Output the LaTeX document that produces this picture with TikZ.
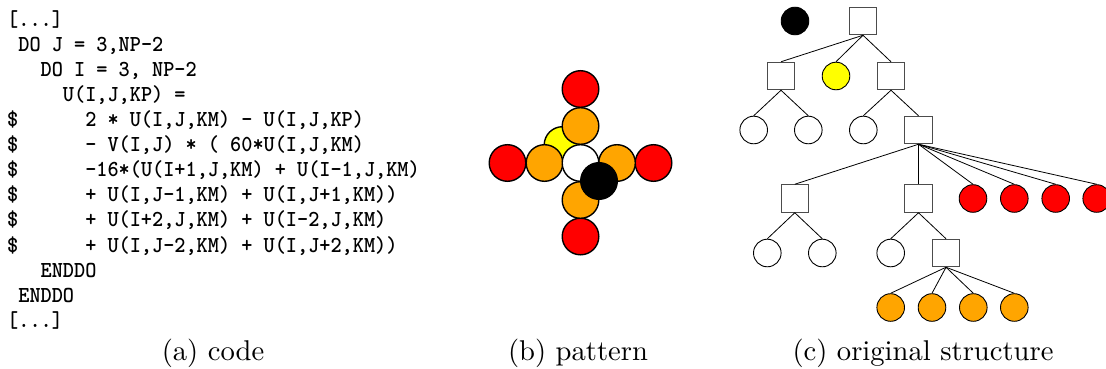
\documentclass[tikz,border=0pt]{standalone}
\usepackage{graphicx}
\definecolor{cred}{HTML}{FF0000}
\definecolor{corange}{HTML}{FFA500}
\definecolor{cyellow}{HTML}{FFFF00}
\begin{document}
\begin{tikzpicture}[x=1pt,y=-1pt,
  sqbox/.style={rectangle,draw=black!70,fill=white,minimum size=27.6pt,inner sep=0pt,line width=0.9pt},
  leafnode/.style={circle,draw=black,fill=white,minimum size=27.6pt,inner sep=0pt,line width=0.9pt},
  patnode/.style={circle,draw=black,minimum size=36.6pt,inner sep=0pt,line width=1.4pt},
  treeline/.style={draw=black,line width=0.8pt},
  captext/.style={anchor=base,inner sep=0pt}]
\useasboundingbox (0,0) rectangle (1106,369);
\fill[white] (0,0) rectangle (1106,369);

% ---------- (a) code
\node[anchor=north west,inner sep=0pt] (code) at (7,8.43)
{\scalebox{2.124}[2.29]{\fontsize{10}{10.96}\selectfont\ttfamily\bfseries
\begin{tabular}[t]{@{}l@{}}
{[}...{]}\\
~DO J = 3,NP-2\\
~~~DO I = 3, NP-2\\
~~~~~U(I,J,KP) =\\
\$~~~~~~2 * U(I,J,KM) - U(I,J,KP)\\
\$~~~~~~- V(I,J) * ( 60*U(I,J,KM)\\
\$~~~~~~-16*(U(I+1,J,KM) + U(I-1,J,KM)\\
\$~~~~~~+ U(I,J-1,KM) + U(I,J+1,KM))\\
\$~~~~~~+ U(I+2,J,KM) + U(I-2,J,KM)\\
\$~~~~~~+ U(I,J-2,KM) + U(I,J+2,KM))\\
~~~ENDDO\\
~ENDDO\\
{[}...{]}
\end{tabular}}};
\node[captext] (capa) at (213,360) {\scalebox{2.86}{\fontsize{10}{12}\selectfont (a) code}};

% ---------- (b) pattern
\node[patnode,fill=cyellow] (py) at (562.5,145) {};
\node[patnode,fill=cred] (prt) at (580.5,89) {};
\node[patnode,fill=cred] (prl) at (507.5,163) {};
\node[patnode,fill=cred] (prr) at (653.5,163) {};
\node[patnode,fill=cred] (prb) at (580.5,236.5) {};
\node[patnode,fill=corange] (pot) at (580.5,126) {};
\node[patnode,fill=corange] (pol) at (544.5,163) {};
\node[patnode,fill=corange] (por) at (617,163) {};
\node[patnode,fill=corange] (pob) at (580.5,200) {};
\node[patnode,fill=white] (pw) at (580.5,163) {};
\node[patnode,fill=black] (pk) at (599,181) {};
\node[captext] (capb) at (578,360) {\scalebox{2.86}{\fontsize{10}{12}\selectfont (b) pattern}};

% ---------- (c) original structure
\node[leafnode,fill=black] (blk) at (795,21) {};
\node[sqbox] (r) at (863,21) {};
\node[sqbox] (a) at (781,76) {};
\node[leafnode,fill=cyellow] (y) at (836,76) {};
\node[sqbox] (b) at (891,76) {};
\node[leafnode] (a1) at (753.7,130) {};
\node[leafnode] (a2) at (808.3,130) {};
\node[leafnode] (b1) at (863.3,130) {};
\node[sqbox] (c) at (918.5,130) {};
\node[sqbox] (d) at (794.8,198.5) {};
\node[sqbox] (e) at (918.5,198.5) {};
\node[leafnode,fill=cred] (r1) at (973,198.5) {};
\node[leafnode,fill=cred] (r2) at (1014.3,198.5) {};
\node[leafnode,fill=cred] (r3) at (1055.7,198.5) {};
\node[leafnode,fill=cred] (r4) at (1096.7,198.5) {};
\node[leafnode] (d1) at (767.3,253) {};
\node[leafnode] (d2) at (822.3,253) {};
\node[leafnode] (e1) at (890.7,253) {};
\node[sqbox] (f) at (946,253) {};
\node[leafnode,fill=corange] (o1) at (890.7,307.5) {};
\node[leafnode,fill=corange] (o2) at (932,307.5) {};
\node[leafnode,fill=corange] (o3) at (973.3,307.5) {};
\node[leafnode,fill=corange] (o4) at (1014.3,307.5) {};

\foreach \p/\ch in {r/a,r/y,r/b,a/a1,a/a2,b/b1,b/c,c/d,c/e,c/r1,c/r2,c/r3,c/r4,d/d1,d/d2,e/e1,e/f,f/o1,f/o2,f/o3,f/o4}
  \draw[treeline] (\p.south) -- (\ch.north);

\node[captext] (capc) at (923,360) {\scalebox{2.86}{\fontsize{10}{12}\selectfont (c) original structure}};
\end{tikzpicture}
\end{document}
